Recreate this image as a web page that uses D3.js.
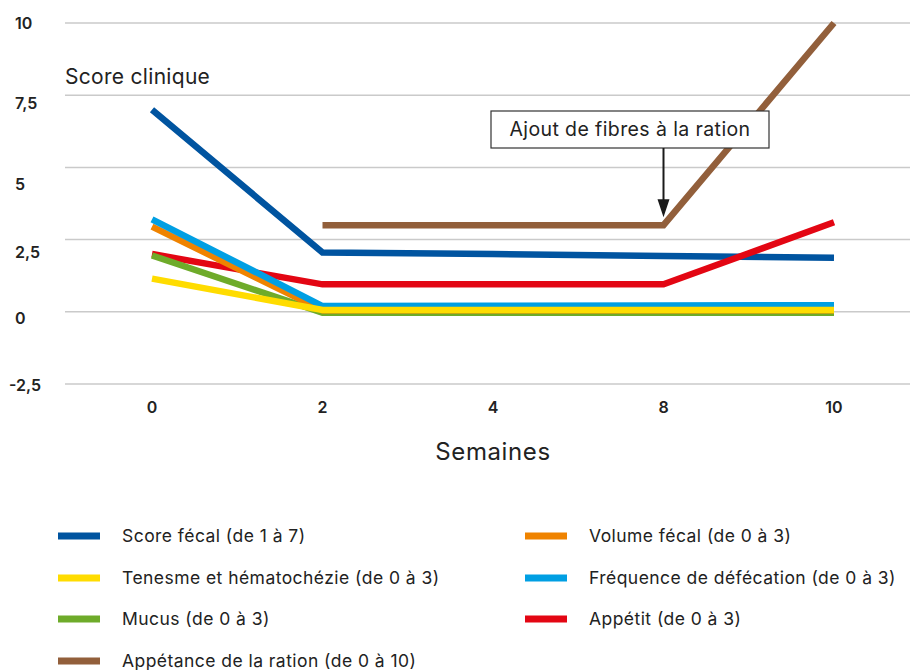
<!DOCTYPE html>
<html lang="fr">
<head>
<meta charset="utf-8">
<script src="https://cdn.jsdelivr.net/npm/d3@7"></script>
<style>
  html, body { margin: 0; padding: 0; background: #ffffff; }
  svg { display: block; font-family: Inter, "Noto Sans", sans-serif; }
</style>
</head>
<body>
<svg id="chart" width="910" height="670"></svg>
<script>
// Semaines de suivi
const weeks = ["0", "2", "4", "8", "10"];

// Scores cliniques par semaine (null = non mesuré)
const scoreFecal   = [7, 2.05, 2.0, 1.93, 1.87];
const tenesme      = [1.15, 0.06, 0.06, 0.06, 0.06];
const mucus        = [1.95, -0.03, -0.03, -0.03, -0.03];
const appetance    = [null, 3, 3, 3, 10];
const volumeFecal  = [2.95, 0.05, 0.05, 0.05, 0.05];
const frequence    = [3.2, 0.2, 0.21, 0.22, 0.23];
const appetit      = [2.0, 0.95, 0.95, 0.95, 3.1];

// Graduations de l'axe vertical
const yTicks = [10, 7.5, 5, 2.5, 0, -2.5];
const yTickLabels = ["10", "7,5", "5", "2,5", "0", "-2,5"];

// Séries (ordre de la légende) et ordre de tracé
const series = [
  { name: "Score fécal (de 1 à 7)",                 values: scoreFecal,  color: "#0054a0", z: 0 },
  { name: "Volume fécal (de 0 à 3)",                values: volumeFecal, color: "#ef8300", z: 3 },
  { name: "Tenesme et hématochézie (de 0 à 3)",     values: tenesme,     color: "#ffdc00", z: 5 },
  { name: "Fréquence de défécation (de 0 à 3)",     values: frequence,   color: "#009fe3", z: 4 },
  { name: "Mucus (de 0 à 3)",                       values: mucus,       color: "#6eab2a", z: 2 },
  { name: "Appétit (de 0 à 3)",                     values: appetit,     color: "#e30613", z: 1 },
  { name: "Appétance de la ration (de 0 à 10)",     values: appetance,   color: "#925f3b", z: 6 }
];

const annotationText = "Ajout de fibres à la ration";
const annotationWeek = "8";

const svg = d3.select("#chart");
const textColor = "#222222";

const x = d3.scalePoint().domain(weeks).range([152, 834]);
const y = d3.scaleLinear().domain([-2.5, 10]).range([384, 23]);

// Grille horizontale
svg.append("g")
  .selectAll("line")
  .data(yTicks)
  .join("line")
  .attr("x1", 65).attr("x2", 910)
  .attr("y1", d => y(d)).attr("y2", d => y(d))
  .attr("stroke", "#cacaca")
  .attr("stroke-width", 1.5);

// Étiquettes de l'axe vertical (légèrement décalées sous leur ligne)
const yLabelNudge = [0, 8, 17, 13, 7, 1];
svg.append("g")
  .selectAll("text")
  .data(yTicks)
  .join("text")
  .attr("x", d => d < 0 ? 9 : 15)
  .attr("y", (d, i) => y(d) + yLabelNudge[i])
  .attr("dy", "0.35em")
  .attr("font-size", 16)
  .attr("font-weight", 600)
  .attr("fill", textColor)
  .text((d, i) => yTickLabels[i]);

// Étiquettes de l'axe horizontal
svg.append("g")
  .selectAll("text")
  .data(weeks)
  .join("text")
  .attr("x", d => x(d))
  .attr("y", 407)
  .attr("dy", "0.35em")
  .attr("text-anchor", "middle")
  .attr("font-size", 16)
  .attr("font-weight", 600)
  .attr("fill", textColor)
  .text(d => d);

// Titres des axes
svg.append("text")
  .attr("x", 65).attr("y", 84)
  .attr("font-size", 21)
  .attr("letter-spacing", 0.3)
  .attr("fill", textColor)
  .text("Score clinique");

svg.append("text")
  .attr("x", (x(weeks[0]) + x(weeks[weeks.length - 1])) / 2)
  .attr("y", 460)
  .attr("text-anchor", "middle")
  .attr("font-size", 24)
  .attr("letter-spacing", 0.6)
  .attr("fill", textColor)
  .text("Semaines");

// Courbes
const line = d3.line()
  .defined(d => d.v !== null)
  .x(d => x(d.w))
  .y(d => y(d.v));

svg.append("g")
  .selectAll("path")
  .data(series.slice().sort((a, b) => a.z - b.z))
  .join("path")
  .attr("d", s => line(s.values.map((v, i) => ({ w: weeks[i], v }))))
  .attr("fill", "none")
  .attr("stroke", s => s.color)
  .attr("stroke-width", 6.5)
  .attr("stroke-linejoin", "miter")
  .attr("stroke-linecap", "butt");

// Annotation : ajout de fibres
const appetanceSerie = series.find(s => s.values === appetance);
const ax = x(annotationWeek);
const ay = y(appetanceSerie.values[weeks.indexOf(annotationWeek)]);
const ann = svg.append("g");
const boxTop = 111, boxBottom = 148, boxLeft = 491, boxRight = 769;
ann.append("rect")
  .attr("x", boxLeft).attr("y", boxTop)
  .attr("width", boxRight - boxLeft).attr("height", boxBottom - boxTop)
  .attr("fill", "#ffffff")
  .attr("stroke", "#333333")
  .attr("stroke-width", 1.2);
ann.append("text")
  .attr("x", (boxLeft + boxRight) / 2)
  .attr("y", (boxTop + boxBottom) / 2)
  .attr("dy", "0.35em")
  .attr("text-anchor", "middle")
  .attr("font-size", 19.5)
  .attr("letter-spacing", 0.4)
  .attr("fill", textColor)
  .text(annotationText);
const tipY = ay - 8;
ann.append("line")
  .attr("x1", ax).attr("x2", ax)
  .attr("y1", boxBottom).attr("y2", tipY - 16)
  .attr("stroke", "#1a1a1a")
  .attr("stroke-width", 2);
ann.append("path")
  .attr("d", `M${ax - 6},${tipY - 18} L${ax + 6},${tipY - 18} L${ax},${tipY} Z`)
  .attr("fill", "#1a1a1a");

// Légende en deux colonnes
const legendCols = [
  { swatchX: 58, textX: 122 },
  { swatchX: 525, textX: 589 }
];
const legendRows = [536, 578, 619, 661];
const legend = svg.append("g")
  .selectAll("g")
  .data(series)
  .join("g")
  .attr("transform", (s, i) => `translate(0, ${legendRows[Math.floor(i / 2)]})`);
legend.append("line")
  .attr("x1", (s, i) => legendCols[i % 2].swatchX)
  .attr("x2", (s, i) => legendCols[i % 2].swatchX + 42)
  .attr("y1", 0).attr("y2", 0)
  .attr("stroke", s => s.color)
  .attr("stroke-width", 7);
legend.append("text")
  .attr("x", (s, i) => legendCols[i % 2].textX)
  .attr("y", 0)
  .attr("dy", "0.35em")
  .attr("font-size", 17.5)
  .attr("letter-spacing", 0.45)
  .attr("fill", textColor)
  .text(s => s.name);
</script>
</body>
</html>
